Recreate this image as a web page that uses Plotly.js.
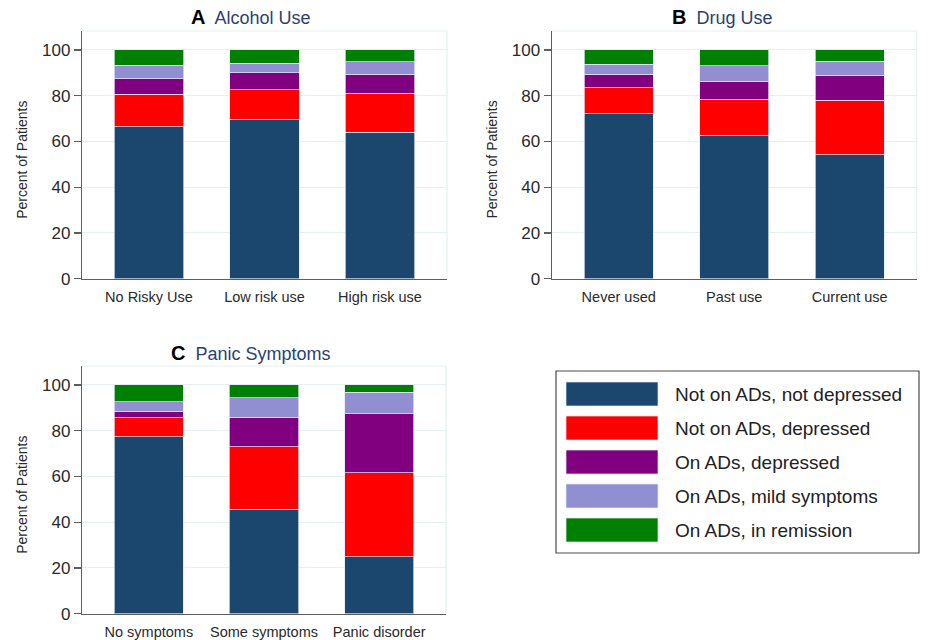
<!DOCTYPE html>
<html>
<head>
<meta charset="utf-8">
<script src="https://cdn.plot.ly/plotly-3.0.1.min.js"></script>
<style>
  html, body { margin: 0; padding: 0; background: #fff; }
  #chart { width: 928px; height: 640px; }
</style>
</head>
<body>
<div id="chart"></div>
<script>
// Depression / antidepressant status, stacked percentages per group
const seriesNames = [
  'Not on ADs, not depressed',
  'Not on ADs, depressed',
  'On ADs, depressed',
  'On ADs, mild symptoms',
  'On ADs, in remission'
];
const seriesColors = ['#1b466e', '#ff0000', '#800080', '#918fd1', '#008000'];

const alcoholCats = ['No Risky Use', 'Low risk use', 'High risk use'];
const drugCats = ['Never used', 'Past use', 'Current use'];
const panicCats = ['No symptoms', 'Some symptoms', 'Panic disorder'];

// one row per series (in seriesNames order), one value per category
const alcoholPct = [
  [66.5, 69.4, 64.0],
  [14.1, 13.3, 17.0],
  [6.9, 7.4, 8.4],
  [5.9, 4.1, 5.5],
  [6.6, 5.8, 5.1]
];
const drugPct = [
  [72.2, 62.4, 54.1],
  [11.2, 16.0, 24.0],
  [6.0, 8.0, 10.8],
  [4.3, 6.7, 6.1],
  [6.3, 6.9, 5.0]
];
const panicPct = [
  [77.3, 45.6, 24.9],
  [8.3, 27.5, 36.7],
  [2.9, 12.9, 25.9],
  [4.1, 8.5, 9.4],
  [7.4, 5.5, 3.1]
];

const panels = [
  { letter: 'A', name: 'Alcohol Use', cats: alcoholCats, pct: alcoholPct, xa: 'x', ya: 'y' },
  { letter: 'B', name: 'Drug Use', cats: drugCats, pct: drugPct, xa: 'x2', ya: 'y2' },
  { letter: 'C', name: 'Panic Symptoms', cats: panicCats, pct: panicPct, xa: 'x3', ya: 'y3' }
];

const W = 928, H = 640;
const px = v => v / W;
const py = v => 1 - v / H;

const FONT = 'Liberation Sans, Arial, Helvetica, sans-serif';
const AXIS_COLOR = '#5e5e5e';
const GRID_COLOR = '#e6eff1';
const TITLE_COLOR = '#2b3f72';

const traces = [];
panels.forEach(p => {
  p.pct.forEach((vals, i) => {
    traces.push({
      type: 'bar',
      x: p.cats,
      y: vals,
      name: seriesNames[i],
      xaxis: p.xa,
      yaxis: p.ya,
      showlegend: false,
      marker: { color: seriesColors[i], line: { color: 'rgba(225,232,245,0.9)', width: 0.8 } },
      hoverinfo: 'skip'
    });
  });
});

// plot-area boxes in pixels: [left, right, top, bottom]
const boxes = [
  [82, 447, 31, 278.7],
  [551.7, 916.7, 31, 278.7],
  [82, 446, 366, 613.7]
];

function xAxis(i) {
  const b = boxes[i];
  return {
    domain: [px(b[0]), px(b[1])],
    anchor: ['y', 'y2', 'y3'][i],
    type: 'category',
    range: [-0.58, 2.58],
    showline: true, linecolor: AXIS_COLOR, linewidth: 1.2,
    ticks: '', showgrid: false, zeroline: false,
    tickfont: { family: FONT, size: 14.5, color: '#2a2a2a' },
    ticklabelstandoff: 5,
    fixedrange: true
  };
}
function yAxis(i) {
  const b = boxes[i];
  return {
    domain: [py(b[3]), py(b[2])],
    anchor: ['x', 'x2', 'x3'][i],
    range: [0, 108.3],
    tickvals: [0, 20, 40, 60, 80, 100],
    showline: true, linecolor: AXIS_COLOR, linewidth: 1.2,
    ticks: 'outside', ticklen: 7, tickcolor: AXIS_COLOR, tickwidth: 1.2,
    showgrid: true, gridcolor: GRID_COLOR, gridwidth: 1,
    zeroline: false,
    tickfont: { family: FONT, size: 17, color: '#2a2a2a' },
    fixedrange: true
  };
}

const shapes = [];
const annotations = [];

// faint frame on top and right of each plot area
boxes.forEach(b => {
  shapes.push({ type: 'line', xref: 'paper', yref: 'paper', x0: px(b[0]), x1: px(b[1]), y0: py(b[2]), y1: py(b[2]), line: { color: GRID_COLOR, width: 1.2 }, layer: 'below' });
  shapes.push({ type: 'line', xref: 'paper', yref: 'paper', x0: px(b[1]), x1: px(b[1]), y0: py(b[2]), y1: py(b[3]), line: { color: GRID_COLOR, width: 1.2 }, layer: 'below' });
});

// panel titles and y-axis titles
const titlePos = [[251, 17], [721.5, 17], [251, 353]];
panels.forEach((p, i) => {
  annotations.push({
    xref: 'paper', yref: 'paper',
    x: px(titlePos[i][0]), y: py(titlePos[i][1]),
    xanchor: 'center', yanchor: 'middle', showarrow: false,
    text: '<span style="color:#000;font-size:20px"><b>' + p.letter + '</b></span>  ' + p.name,
    font: { family: FONT, size: 18, color: TITLE_COLOR }
  });
  const b = boxes[i];
  annotations.push({
    xref: 'paper', yref: 'paper',
    x: px(b[0] - 60), y: py((b[2] + b[3]) / 2 + 5),
    xanchor: 'center', yanchor: 'middle', showarrow: false,
    textangle: -90,
    text: 'Percent of Patients',
    font: { family: FONT, size: 14, color: '#2a2a2a' }
  });
});

// legend panel built from the series names and colours
shapes.push({ type: 'rect', xref: 'paper', yref: 'paper', x0: px(556), x1: px(919), y0: py(371), y1: py(553), line: { color: '#4a4a4a', width: 1.2 }, fillcolor: '#fff' });
seriesNames.forEach((name, i) => {
  const cy = 394 + i * 34;
  shapes.push({
    type: 'rect', xref: 'paper', yref: 'paper',
    x0: px(566), x1: px(658), y0: py(cy + 12), y1: py(cy - 12),
    fillcolor: seriesColors[i], line: { color: 'rgba(225,232,245,0.9)', width: 0.8 }
  });
  annotations.push({
    xref: 'paper', yref: 'paper', x: px(673), y: py(cy),
    xanchor: 'left', yanchor: 'middle', showarrow: false,
    text: name, font: { family: FONT, size: 19, color: '#222' }
  });
});

const layout = {
  width: W, height: H,
  margin: { l: 0, r: 0, t: 0, b: 0 },
  paper_bgcolor: '#fff', plot_bgcolor: '#fff',
  barmode: 'stack', bargap: 0.4,
  showlegend: false,
  xaxis: xAxis(0), yaxis: yAxis(0),
  xaxis2: xAxis(1), yaxis2: yAxis(1),
  xaxis3: xAxis(2), yaxis3: yAxis(2),
  shapes: shapes,
  annotations: annotations,
  font: { family: FONT }
};

Plotly.newPlot('chart', traces, layout, { displayModeBar: false, staticPlot: true });
</script>
</body>
</html>
